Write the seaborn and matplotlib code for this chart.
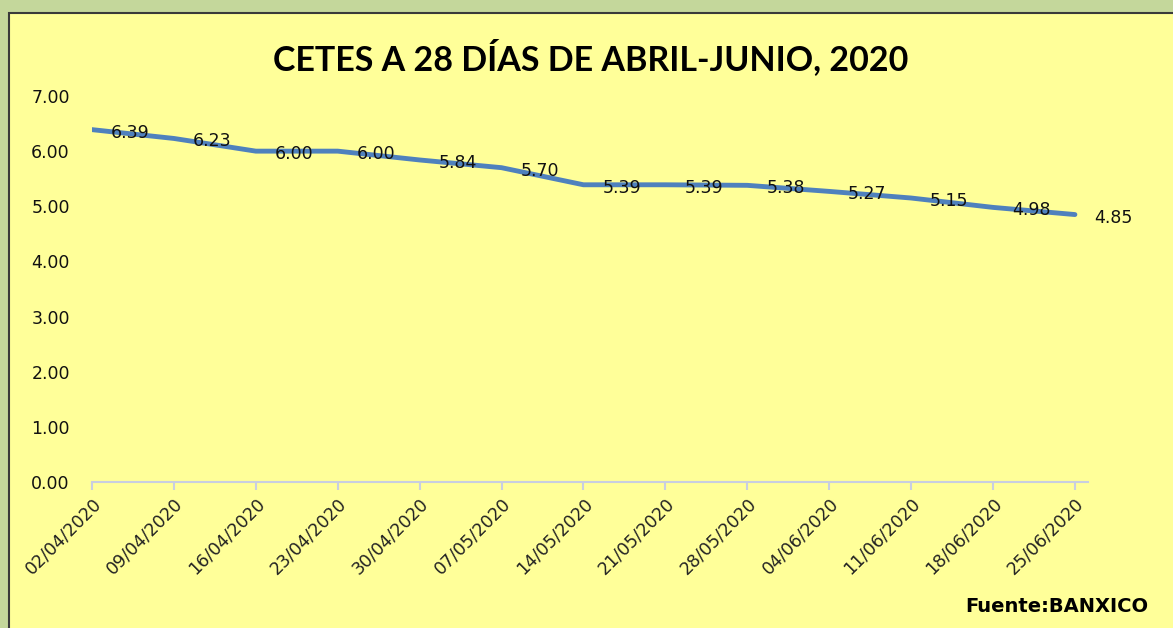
import numpy as np
import pandas as pd
import matplotlib
matplotlib.use('Agg')
import matplotlib.pyplot as plt
import seaborn as sns
from matplotlib.patches import Rectangle

# Datos: CETES a 28 dias (BANXICO)
fechas = ['02/04/2020', '09/04/2020', '16/04/2020', '23/04/2020', '30/04/2020',
          '07/05/2020', '14/05/2020', '21/05/2020', '28/05/2020', '04/06/2020',
          '11/06/2020', '18/06/2020', '25/06/2020']
tasas = [6.39, 6.23, 6.00, 6.00, 5.84, 5.70, 5.39, 5.39, 5.38, 5.27, 5.15, 4.98, 4.85]
yticks = [0, 1, 2, 3, 4, 5, 6, 7]

df = pd.DataFrame({'fecha': fechas, 'tasa': tasas})
df['pos'] = np.arange(len(df))

sns.set_style('white')
plt.rcParams['font.family'] = ['DejaVu Sans']

amarillo = '#FFFF99'
verde = '#C4D79B'
azul = '#4F81BD'

fig = plt.figure(figsize=(11.73, 6.28), dpi=100)
fig.patch.set_facecolor(verde)
# area del grafico (amarilla con borde)
fondo = Rectangle((9 / 1173, -0.05), 1.2, 1 - 13 / 628 + 0.05,
                  transform=fig.transFigure, facecolor=amarillo,
                  edgecolor='#3a3a3a', linewidth=1.5, zorder=-10)
fig.patches.append(fondo)

ax = fig.add_axes([92 / 1173, 1 - 482 / 628, (1088 - 92) / 1173, (482 - 96) / 628])
ax.set_facecolor('none')
ax.set_zorder(5)

sns.lineplot(data=df, x='pos', y='tasa', ax=ax, color=azul, linewidth=3.5,
             solid_capstyle='round', solid_joinstyle='round')

for x, y in zip(df['pos'], df['tasa']):
    ax.annotate(f'{y:.2f}', (x, y), xytext=(19, -3), textcoords='offset pixels',
                ha='left', va='center', fontsize=12.5, color='#111111')

ax.set_xlim(0, 12.16)
ax.set_ylim(0, 7)
ax.set_yticks(yticks)
ax.set_yticklabels([f'{v:.2f}' for v in yticks], fontsize=12.5, color='#111111')
ax.set_xticks(df['pos'])
ax.set_xticklabels(df['fecha'], rotation=45, ha='right', rotation_mode='anchor',
                   fontsize=12.5, color='#222222')
ax.set_xlabel('')
ax.set_ylabel('')

for s in ['top', 'right', 'left']:
    ax.spines[s].set_visible(False)
ax.spines['bottom'].set_color('#C8CEE0')
ax.spines['bottom'].set_linewidth(1.5)
ax.tick_params(axis='x', direction='out', length=6, width=1.5, color='#C8CEE0', pad=3, bottom=True)
ax.tick_params(axis='y', length=0, pad=16)

fig.text(591 / 1173, 1 - 58 / 628, 'CETES A 28 DÍAS DE ABRIL-JUNIO, 2020',
         ha='center', va='center', fontsize=24.5, fontweight='bold',
         family=['Lato', 'DejaVu Sans'], color='black')
fig.text(1148 / 1173, 1 - 607 / 628, 'Fuente:BANXICO', ha='right', va='center',
         fontsize=14, fontweight='bold', color='black')

fig.savefig('out.png', dpi=100, facecolor=fig.get_facecolor())
